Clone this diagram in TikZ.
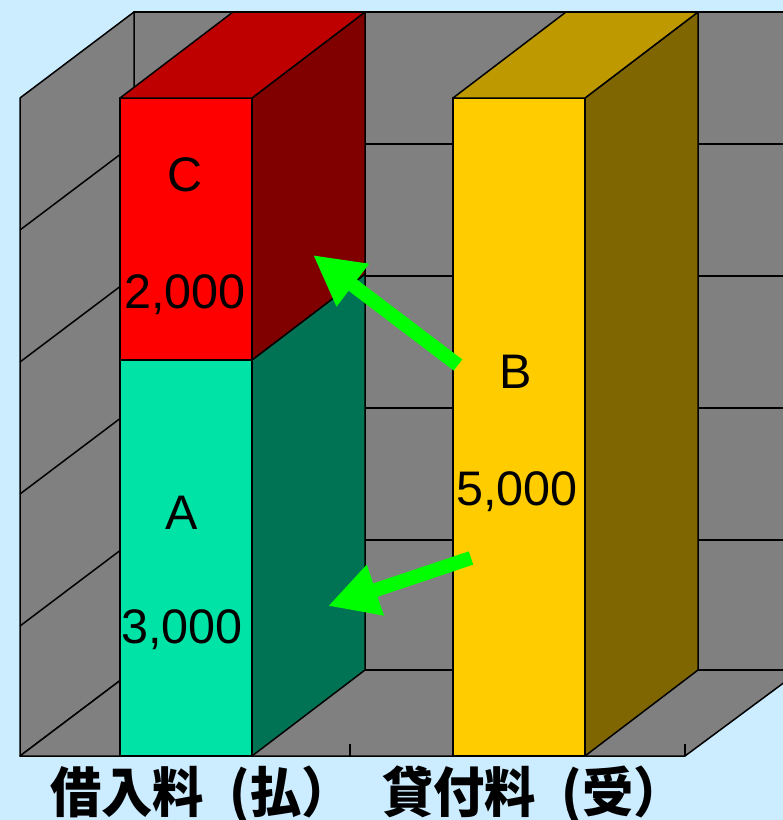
\documentclass[tikz,border=0pt]{standalone}
\usepackage{fontspec}
\setmainfont{Liberation Sans}
\newfontfamily\cjk{Noto Sans CJK JP}
\usetikzlibrary{arrows.meta}
\definecolor{bgblue}{HTML}{CCECFF}
\definecolor{wallgray}{HTML}{808080}
\definecolor{redfront}{HTML}{FF0000}
\definecolor{redtop}{HTML}{BF0000}
\definecolor{redside}{HTML}{800000}
\definecolor{grnfront}{HTML}{00E3A6}
\definecolor{grnside}{HTML}{007355}
\definecolor{yelfront}{HTML}{FFCC00}
\definecolor{yeltop}{HTML}{BF9900}
\definecolor{yelside}{HTML}{7F6600}
\definecolor{arrowgreen}{HTML}{00FF00}
\tikzset{
  face/.style={draw=black, line width=1.5pt, line join=round},
  gridline/.style={draw=black, line width=1.5pt},
  valtext/.style={font=\fontsize{48.5}{52}\selectfont, text=black, inner sep=0pt},
  axislabel/.style={font=\cjk\bfseries\fontsize{54}{58}\selectfont, text=black, inner sep=0pt, xscale=0.95, anchor=west},
  bigarrow/.style={draw=arrowgreen, line width=14pt, -{Triangle[length=50pt,width=50pt]}}
}
\begin{document}
\begin{tikzpicture}[x=1pt, y=-1pt]
\useasboundingbox (0,0) rectangle (783,820);
\fill[bgblue] (0,0) rectangle (783,820);
\clip (0,0) rectangle (783,820);
% back wall
\path[face, fill=wallgray] (134,12) -- (900,12) -- (900,670) -- (134,670) -- cycle;
\foreach \y in {144,276,408,540} \draw[gridline] (134,\y) -- (900,\y);
% left wall
\path[face, fill=wallgray] (20,98) -- (134,12) -- (134,670) -- (20,756) -- cycle;
\foreach \y in {144,276,408,540} \draw[gridline] (20,\y+86) -- (134,\y);
% floor
\path[face, fill=wallgray] (20,756) -- (685,756) -- (801,670) -- (134,670) -- cycle;
\draw[gridline] (350,756) -- (350,744);
\draw[gridline] (685,756) -- (685,744);
% bar A/C
\path[face, fill=grnfront] (120,360) rectangle (252,756);
\path[face, fill=grnside] (252,360) -- (365,274) -- (365,670) -- (252,756) -- cycle;
\path[face, fill=redfront] (120,98) rectangle (252,360);
\path[face, fill=redside] (252,98) -- (365,12) -- (365,274) -- (252,360) -- cycle;
\path[face, fill=redtop] (120,98) -- (233,12) -- (365,12) -- (252,98) -- cycle;
% bar B
\path[face, fill=yelfront] (453,98) rectangle (585,756);
\path[face, fill=yelside] (585,98) -- (698,12) -- (698,670) -- (585,756) -- cycle;
\path[face, fill=yeltop] (453,98) -- (566,12) -- (698,12) -- (585,98) -- cycle;
% texts
\node[valtext] (c) at (185,175) {C};
\node[valtext] (cv) at (185,295) {2,000};
\node[valtext] (a) at (182,513) {A};
\node[valtext] (av) at (182,630) {3,000};
\node[valtext] (b) at (516,372) {B};
\node[valtext] (bv) at (517,492) {5,000};
% arrows
\coordinate (b1) at (458,365);
\coordinate (c1) at (313,255);
\coordinate (b2) at (471,558);
\coordinate (a1) at (328,606);
\draw[bigarrow] (b1) -- (c1);
\draw[bigarrow] (b2) -- (a1);
% axis labels
\node[axislabel] (l1) at (50,795) {借入料\hspace{0.5em}(払）};
\node[axislabel] (l2) at (382,795) {貸付料\hspace{0.5em}(受）};
\end{tikzpicture}
\end{document}
